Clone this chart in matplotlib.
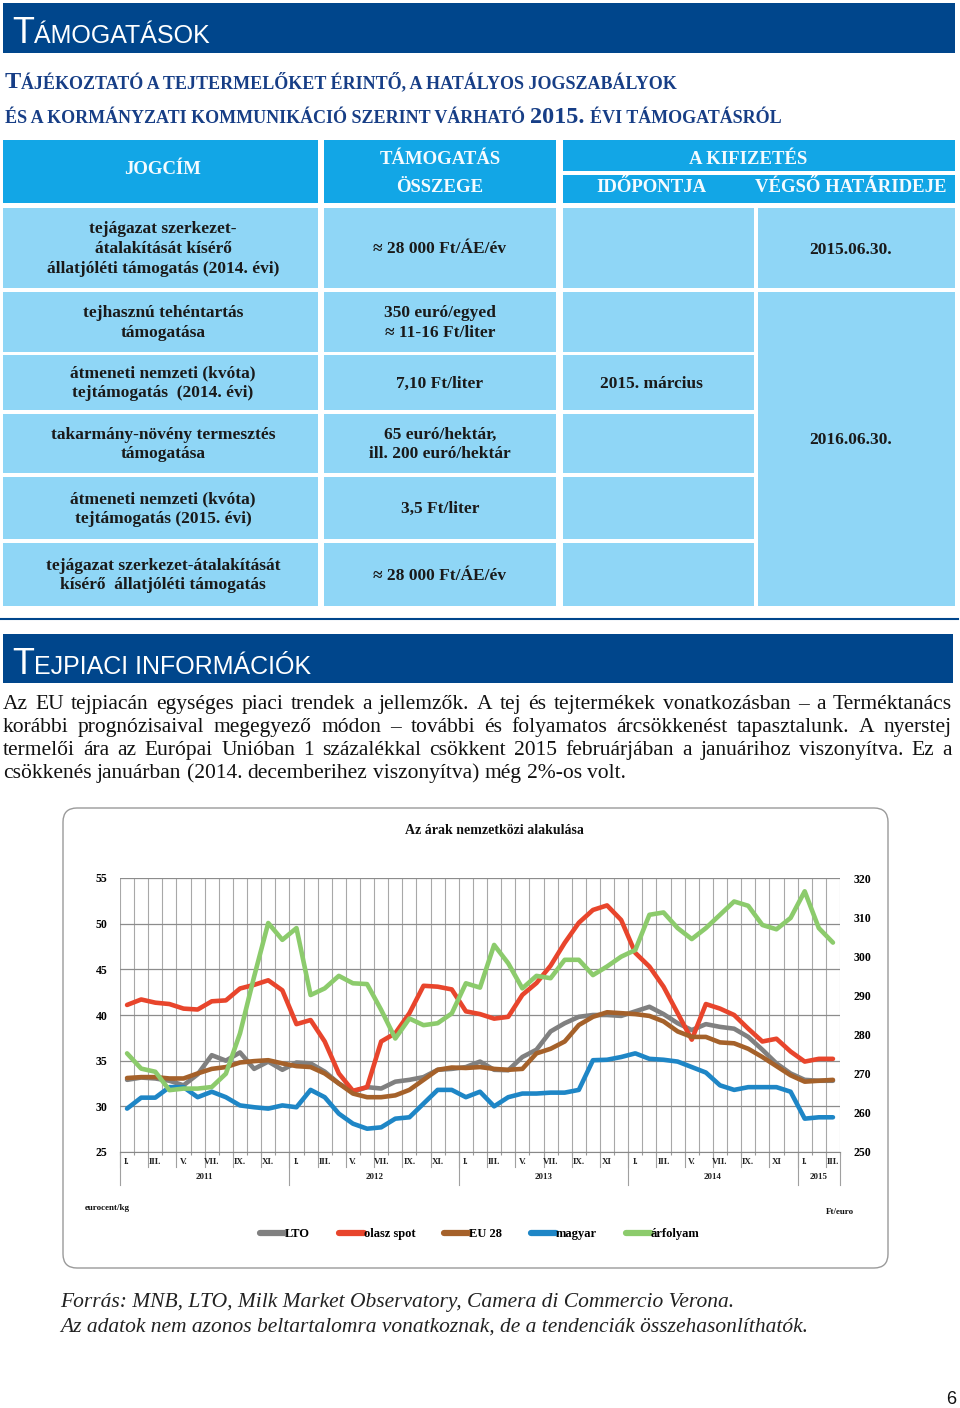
import numpy as np
import matplotlib.pyplot as plt
from matplotlib.patches import Rectangle, FancyBboxPatch
from matplotlib.transforms import blended_transform_factory

SERIF = ['Liberation Serif', 'DejaVu Serif']
NARROW = ['Liberation Sans Narrow', 'Liberation Sans', 'DejaVu Sans']

# ---- chart data (Jan 2011 .. Mar 2015, monthly) ----
lto = [32.9, 33.15, 33.05, 32.8, 32.3, 33.5, 35.6, 35.0, 35.9, 34.1, 34.9, 34.0,
       34.8, 34.7, 33.8, 32.5, 31.6, 32.1, 31.95, 32.7, 32.9, 33.2, 34.0, 34.1,
       34.3, 34.9, 34.0, 33.95, 35.4, 36.2, 38.2, 39.1, 39.8, 40.0, 40.0, 39.9,
       40.4, 40.9, 40.1, 39.1, 38.35, 39.0, 38.7, 38.5, 37.6, 36.2, 34.7, 33.6,
       32.9, 32.8, 32.8]
olasz = [41.1, 41.7, 41.35, 41.2, 40.7, 40.6, 41.5, 41.6, 42.9, 43.3, 43.8, 42.7,
         39.0, 39.45, 37.1, 33.6, 31.7, 32.1, 37.1, 38.0, 40.2, 43.2, 43.1, 42.8,
         40.4, 40.1, 39.6, 39.8, 42.2, 43.5, 45.4, 47.9, 50.1, 51.5, 52.0, 50.4,
         46.8, 45.3, 43.1, 40.2, 37.3, 41.2, 40.7, 40.0, 38.5, 37.1, 37.4, 36.0,
         34.9, 35.2, 35.2]
eu28 = [33.1, 33.2, 33.2, 33.05, 33.05, 33.6, 34.1, 34.3, 34.8, 34.95, 35.05, 34.7,
        34.4, 34.3, 33.6, 32.5, 31.4, 31.0, 31.0, 31.2, 31.8, 32.9, 34.0, 34.25,
        34.2, 34.3, 34.1, 34.0, 34.1, 35.8, 36.3, 37.1, 38.9, 39.8, 40.3, 40.2,
        40.1, 39.9, 39.3, 38.2, 37.6, 37.6, 37.0, 36.9, 36.3, 35.4, 34.4, 33.4,
        32.7, 32.8, 32.9]
magyar = [29.75, 30.95, 30.95, 32.1, 32.1, 31.0, 31.6, 31.0, 30.1, 29.9, 29.75, 30.1,
          29.9, 31.8, 31.0, 29.2, 28.1, 27.55, 27.7, 28.65, 28.8, 30.3, 31.8, 31.8,
          31.0, 31.6, 30.0, 31.0, 31.4, 31.4, 31.5, 31.5, 31.8, 35.05, 35.1, 35.4,
          35.8, 35.2, 35.1, 34.9, 34.3, 33.7, 32.3, 31.8, 32.1, 32.1, 32.1, 31.6,
          28.65, 28.8, 28.8]
arfolyam = [275.2, 271.3, 270.5, 265.8, 266.2, 266.2, 266.6, 270.0, 280.3, 294.8, 308.5, 304.2,
            307.2, 290.1, 291.8, 295.0, 293.1, 292.9, 286.3, 279.0, 284.1, 282.4, 282.9, 285.4,
            293.1, 292.0, 302.9, 298.2, 291.8, 295.0, 294.4, 299.1, 299.1, 295.2, 297.4, 299.9,
            301.6, 310.6, 311.2, 307.2, 304.4, 307.2, 310.6, 314.0, 312.9, 308.0, 306.9, 309.8,
            316.6, 307.2, 303.5]

month_labels = (['I.', 'III.', 'V.', 'VII.', 'IX.', 'XI.'] * 2 +
                ['I.', 'III.', 'V.', 'VII.', 'IX.', 'XI'] * 2 + ['I.', 'III.'])
years = ['2011', '2012', '2013', '2014', '2015']
year_len = [12, 12, 12, 12, 3]

# ---- table content ----
jogcim = ['tejágazat szerkezet-\nátalakítását kísérő\nállatjóléti támogatás (2014. évi)',
          'tejhasznú tehéntartás\ntámogatása',
          'átmeneti nemzeti (kvóta)\ntejtámogatás  (2014. évi)',
          'takarmány-növény termesztés\ntámogatása',
          'átmeneti nemzeti (kvóta)\ntejtámogatás (2015. évi)',
          'tejágazat szerkezet-átalakítását\nkísérő  állatjóléti támogatás']
osszeg = ['≈ 28 000 Ft/ÁE/év', '350 euró/egyed\n≈ 11-16 Ft/liter', '7,10 Ft/liter',
          '65 euró/hektár,\nill. 200 euró/hektár', '3,5 Ft/liter', '≈ 28 000 Ft/ÁE/év']
idopont = ['', '', '2015. március', '', '', '']

paragraph = [
    'Az EU tejpiacán egységes piaci trendek a jellemzők. A tej és tejtermékek vonatkozásban – a Terméktanács',
    'korábbi prognózisaival megegyező módon – további és folyamatos árcsökkenést tapasztalunk. A nyerstej',
    'termelői ára az Európai Unióban 1 százalékkal csökkent 2015 februárjában a januárihoz viszonyítva. Ez a',
    'csökkenés januárban (2014. decemberihez viszonyítva) még 2%-os volt.',
]

DARK = '#00468c'
HEAD = '#12a6e6'
BODY = '#8fd6f6'

fig = plt.figure(figsize=(9.6, 14.08), dpi=100)
page = fig.add_axes([0, 0, 1, 1])
page.set_xlim(0, 960)
page.set_ylim(1408, 0)
page.axis('off')
rend = fig.canvas.get_renderer()


def runs(x, y, parts, **kw):
    # parts: (text, size, gap after in px)
    for s, size, gap in parts:
        t = page.text(x, y, s, fontsize=size, va='baseline', ha='left', **kw)
        x += t.get_window_extent(rend).width + gap
    return x


def justify(x0, x1, y, line, size, last=False):
    words = line.split(' ')
    texts = [page.text(0, y, w, fontsize=size, family=SERIF, color='#111',
                       va='baseline', ha='left') for w in words]
    widths = [t.get_window_extent(rend).width for t in texts]
    if last or len(words) < 2:
        gap = size * 100 / 72 * 0.25
    else:
        gap = (x1 - x0 - sum(widths)) / (len(words) - 1)
    x = x0
    for t, w in zip(texts, widths):
        t.set_x(x)
        x += w + gap


# ---- header bars ----
page.add_patch(Rectangle((3, 3), 952, 50, fc=DARK, ec='none'))
runs(12, 43, [('T', 26, 0), ('ÁMOGATÁSOK', 18, 0)], color='white', family=NARROW)

runs(5, 88, [('T', 17.5, 0), ('ÁJÉKOZTATÓ A TEJTERMELŐKET ÉRINTŐ, A HATÁLYOS JOGSZABÁLYOK', 13, 0)],
     color='#173e86', family=SERIF, weight='bold')
runs(5, 123, [('ÉS A KORMÁNYZATI KOMMUNIKÁCIÓ SZERINT VÁRHATÓ', 13, 5), ('2015.', 17.5, 5),
              ('ÉVI TÁMOGATÁSRÓL', 13, 0)], color='#173e86', family=SERIF, weight='bold')

# ---- table ----
cols = [(3, 318), (324, 556), (563, 754), (758, 955)]
rows = [(208, 288), (292, 352), (355, 410), (414, 473), (477, 539), (543, 606)]

for (x0, x1) in cols[:2]:
    page.add_patch(Rectangle((x0, 140), x1 - x0, 63, fc=HEAD, ec='none'))
page.add_patch(Rectangle((563, 140), 392, 31, fc=HEAD, ec='none'))
page.add_patch(Rectangle((563, 175), 392, 28, fc=HEAD, ec='none'))
hk = dict(color='#f4fbff', family=SERIF, weight='bold', fontsize=13.5, ha='center', va='center')
page.text(163, 170, 'JOGCÍM', **hk)
page.text(440, 159, 'TÁMOGATÁS', **hk)
page.text(440, 188, 'ÖSSZEGE', **hk)
page.text(748, 159, 'A KIFIZETÉS', **hk)
page.text(651, 188, 'IDŐPONTJA', **hk)
page.text(851, 188, 'VÉGSŐ HATÁRIDEJE', **hk)

ck = dict(color='#1a1a1a', family=SERIF, weight='bold', fontsize=12.5, ha='center',
          va='center', linespacing=1.33, multialignment='center')
for r, (y0, y1) in enumerate(rows):
    for c, (x0, x1) in enumerate(cols[:3]):
        page.add_patch(Rectangle((x0, y0), x1 - x0, y1 - y0, fc=BODY, ec='none'))
    yc = (y0 + y1) / 2 + 1
    page.text(163, yc, jogcim[r], **ck)
    page.text(440, yc, osszeg[r], **ck)
    if idopont[r]:
        page.text(651, yc, idopont[r], **ck)
page.add_patch(Rectangle((758, 208), 197, 80, fc=BODY, ec='none'))
page.add_patch(Rectangle((758, 292), 197, 314, fc=BODY, ec='none'))
page.text(851, 250, '2015.06.30.', **ck)
page.text(851, 440, '2016.06.30.', **ck)

page.plot([0, 958], [619, 619], color=DARK, lw=1.5)

# ---- second section ----
page.add_patch(Rectangle((3, 634), 950, 49, fc=DARK, ec='none'))
runs(12, 674, [('T', 26, 0), ('EJPIACI INFORMÁCIÓK', 18, 0)], color='white', family=NARROW)

for k, line in enumerate(paragraph):
    justify(3, 952, 709 + 23 * k, line, 15.5, last=(k == len(paragraph) - 1))

# ---- chart box ----
page.add_patch(FancyBboxPatch((63, 808), 825, 460, boxstyle='round,pad=0,rounding_size=14',
                              fc='white', ec='#9a9a9a', lw=1))
page.text(494, 831, 'Az árak nemzetközi alakulása', family=SERIF, weight='bold',
          fontsize=10, ha='center', va='center', color='#111')
page.text(85, 1208, 'eurocent/kg', family=SERIF, weight='bold', fontsize=6.5,
          ha='left', va='center', color='#111')
page.text(826, 1212, 'Ft/euro', family=SERIF, weight='bold', fontsize=6.5,
          ha='left', va='center', color='#111')

ax = fig.add_axes([120 / 960, (1408 - 1152) / 1408, 720 / 960, 274 / 1408])
ax.set_facecolor('none')
x = np.arange(len(lto)) + 0.5
lw = 3.3
l1, = ax.plot(x, lto, color='#808080', lw=lw, solid_capstyle='round', solid_joinstyle='round', label='LTO')
l2, = ax.plot(x, olasz, color='#e8452c', lw=lw, solid_capstyle='round', solid_joinstyle='round', label='olasz spot')
l3, = ax.plot(x, eu28, color='#a5612a', lw=lw, solid_capstyle='round', solid_joinstyle='round', label='EU 28')
l4, = ax.plot(x, magyar, color='#1e86c6', lw=lw, solid_capstyle='round', solid_joinstyle='round', label='magyar')
ax.set_xlim(0, len(lto))
ax.set_ylim(25, 55)
ax.set_xticks(np.arange(len(lto) + 1))
ax.set_yticks(np.arange(25, 56, 5))
ax.grid(axis='x', color='#a8a8a8', lw=0.8)
ax.grid(axis='y', color='#8c8c8c', lw=0.9)
ax.set_axisbelow(True)
ax.tick_params(axis='x', labelbottom=False, length=2, color='#999')
ax.tick_params(axis='y', length=0, pad=9)
for s in ['top', 'left', 'right']:
    ax.spines[s].set_visible(False)
ax.spines['bottom'].set_color('#888')
for lab in ax.get_yticklabels():
    lab.set_fontproperties({'family': SERIF, 'weight': 'bold', 'size': 8.5})

ax2 = ax.twinx()
l5, = ax2.plot(x, arfolyam, color='#8ccb6c', lw=lw, solid_capstyle='round', solid_joinstyle='round', label='árfolyam')
ax2.set_ylim(250, 320)
ax2.set_yticks(np.arange(250, 321, 10))
ax2.tick_params(axis='y', length=0, pad=10)
for s in ax2.spines.values():
    s.set_visible(False)
for lab in ax2.get_yticklabels():
    lab.set_fontproperties({'family': SERIF, 'weight': 'bold', 'size': 8.5})

# multi-level category axis
tr = blended_transform_factory(ax.transData, ax.transAxes)
for j, lab in enumerate(month_labels):
    ax.text(2 * j + 0.5, -0.038, lab, transform=tr, family=SERIF, weight='bold',
            fontsize=6.5, ha='center', va='center', color='#222')
for k in range(0, len(lto) + 1, 2):
    ax.plot([k, k], [0, -0.055], transform=tr, clip_on=False, color='#a0a0a0', lw=0.8)
start = 0
for yr, n in zip(years, year_len):
    ax.plot([start, start], [0, -0.12], transform=tr, clip_on=False, color='#a0a0a0', lw=0.8)
    ax.text(start + n / 2, -0.092, yr, transform=tr, family=SERIF, weight='bold',
            fontsize=6.5, ha='center', va='center', color='#222')
    start += n
ax.plot([start, start], [0, -0.12], transform=tr, clip_on=False, color='#a0a0a0', lw=0.8)

leg = fig.legend(handles=[l1, l2, l3, l4, l5], loc='center', bbox_to_anchor=(480 / 960, 1 - 1234 / 1408),
                 ncol=5, frameon=False, handlelength=2.0, handletextpad=0.0, columnspacing=2.3,
                 prop={'family': SERIF, 'weight': 'bold', 'size': 9})
for h in leg.legend_handles:
    h.set_linewidth(4.5)

# ---- footer ----
page.text(60, 1303, 'Forrás: MNB, LTO, Milk Market Observatory, Camera di Commercio Verona.',
          family=SERIF, style='italic', fontsize=15.5, ha='left', va='center', color='#222')
page.text(60, 1327, 'Az adatok nem azonos beltartalomra vonatkoznak, de a tendenciák összehasonlíthatók.',
          family=SERIF, style='italic', fontsize=15.5, ha='left', va='center', color='#222')
page.text(951, 1400, '6', family=['Liberation Sans', 'DejaVu Sans'], fontsize=13,
          ha='center', va='center', color='#111')

fig.savefig('out.png', dpi=100)
